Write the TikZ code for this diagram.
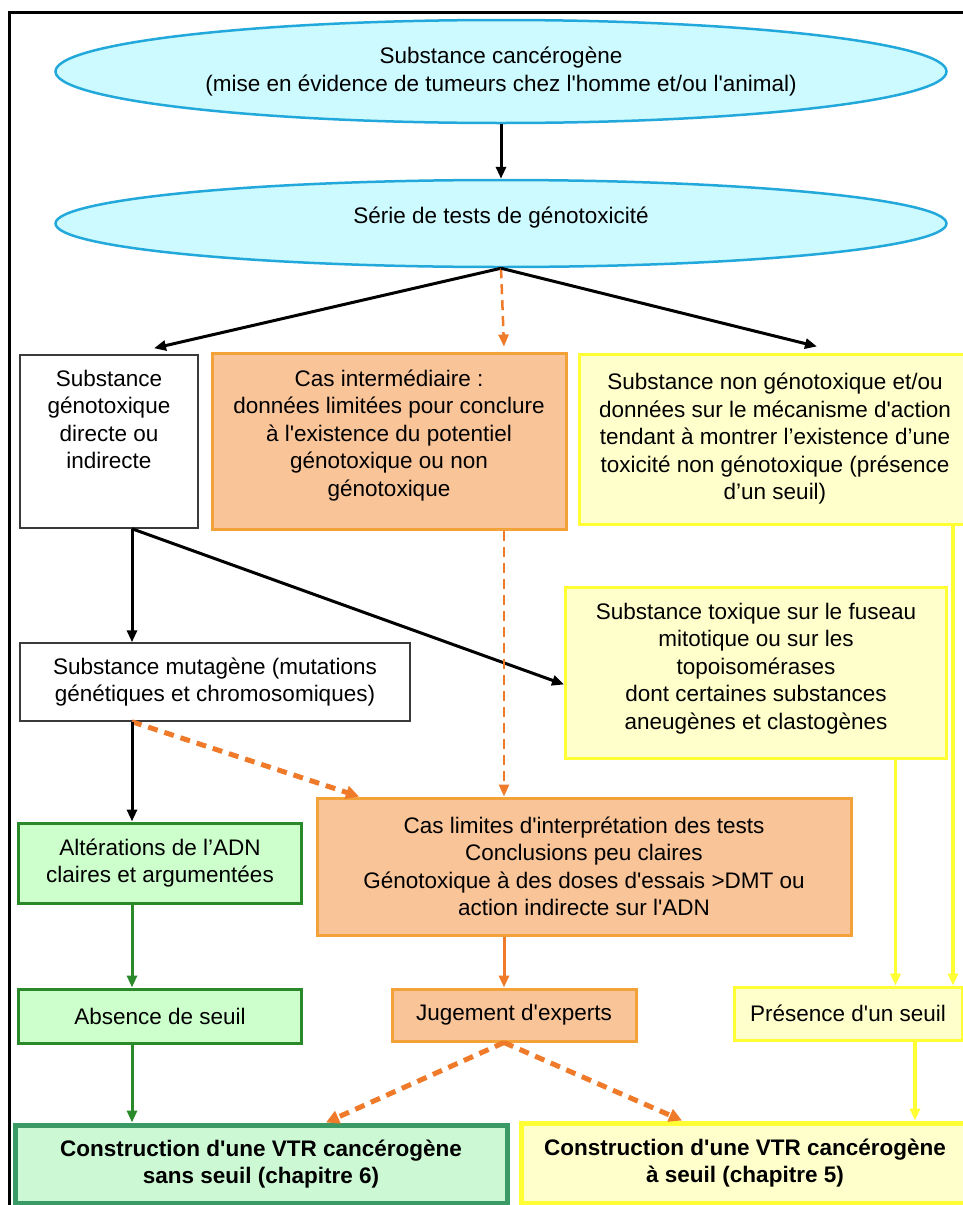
\documentclass[tikz,border=0pt]{standalone}
\usepackage{fontspec}
\setmainfont{Liberation Sans}[Ligatures=TeXOff]
\usetikzlibrary{shapes.geometric,arrows.meta,calc}
\definecolor{ellfill}{HTML}{CCFAFF}
\definecolor{ellline}{HTML}{22A8DA}
\definecolor{orfill}{HTML}{FAC499}
\definecolor{orline}{HTML}{F3A23A}
\definecolor{yefill}{HTML}{FFFFCC}
\definecolor{yeline}{HTML}{FFFF33}
\definecolor{grfill}{HTML}{CCFFCC}
\definecolor{grline}{HTML}{2A8A2A}
\definecolor{blfill}{HTML}{CCF8D4}
\definecolor{blline}{HTML}{3A9A66}
\definecolor{orarrow}{HTML}{EE7A2A}
\definecolor{boxgray}{HTML}{3A3A3A}
\tikzset{
  txt/.style={font=\fontsize{22.5}{27.5}\selectfont, align=center, inner sep=0pt},
  ell/.style={txt, ellipse, draw=ellline, fill=ellfill, line width=2.5pt, minimum width=891pt},
  whitebox/.style={txt, rectangle, draw=boxgray, fill=white, line width=1.5pt},
  orbox/.style={txt, rectangle, draw=orline, fill=orfill, line width=3pt},
  yebox/.style={txt, rectangle, draw=yeline, fill=yefill, line width=3pt},
  grbox/.style={txt, rectangle, draw=grline, fill=grfill, line width=3pt},
  blbox/.style={txt, rectangle, draw=blline, fill=blfill, line width=5pt, font=\fontsize{22.5}{27.5}\selectfont\bfseries},
  brbox/.style={txt, rectangle, draw=yeline, fill=yefill, line width=5pt, font=\fontsize{22.5}{27.5}\selectfont\bfseries},
  tip/.style={-{Triangle[length=12pt,width=10pt]}},
  blackarrow/.style={tip, draw=black, line width=3pt},
  greenarrow/.style={tip, draw=grline, line width=3pt},
  yellowarrow/.style={tip, draw=yeline, line width=3.5pt},
  orsolid/.style={tip, draw=orarrow, line width=3pt},
  orthin/.style={tip, draw=orarrow, line width=2.5pt, dash pattern=on 10pt off 6pt},
  orthick/.style={-{Triangle[length=13pt,width=13pt]}, draw=orarrow, line width=5pt, dash pattern=on 10pt off 7pt},
}
\begin{document}
\begin{tikzpicture}[x=1pt,y=-1pt]
\useasboundingbox (0,0) rectangle (963,1205);
\clip (0,0) rectangle (963,1205);
\draw[line width=3pt, black] (9.5,12.5) rectangle (1000,1300);

\node[ell, minimum height=103pt] (e1) at (501,71.5) {Substance cancérogène\\(mise en évidence de tumeurs chez l'homme et/ou l'animal)};
\node[ell, minimum height=87pt] (e2) at (501,223.5) {Série de tests de génotoxicité\\[-11.5pt]};

\node[whitebox, minimum width=178pt, minimum height=173pt] (A) at (109,441.5) {Substance\\génotoxique\\directe ou\\indirecte\\[16.5pt]};
\node[orbox, minimum width=354pt, minimum height=176pt] (B) at (389,441) {Cas intermédiaire :\\données limitées pour conclure\\à l'existence du potentiel\\génotoxique ou non\\génotoxique\\[-11.5pt]};
\node[yebox, minimum width=392pt, minimum height=170pt] (C) at (775,439) {Substance non génotoxique et/ou\\données sur le mécanisme d'action\\tendant à montrer l’existence d’une\\toxicité non génotoxique (présence\\d’un seuil)};
\node[yebox, minimum width=381pt, minimum height=171pt] (D) at (756,672.5) {Substance toxique sur le fuseau\\mitotique ou sur les\\topoisomérases\\dont certaines substances\\aneugènes et clastogènes\\[-14.5pt]};
\node[whitebox, minimum width=390pt, minimum height=78pt] (E) at (215,682) {Substance mutagène (mutations\\génétiques et chromosomiques)};
\node[grbox, minimum width=283pt, minimum height=80pt] (F) at (160,863) {Altérations de l’ADN\\claires et argumentées};
\node[orbox, minimum width=534pt, minimum height=137pt] (G) at (584,866.5) {Cas limites d'interprétation des tests\\Conclusions peu claires\\Génotoxique à des doses d'essais >DMT ou\\action indirecte sur l'ADN};
\node[grbox, minimum width=283pt, minimum height=54pt] (Abs) at (160,1016) {Absence de seuil};
\node[orbox, minimum width=244pt, minimum height=52pt] (Jug) at (514,1015) {Jugement d'experts};
\node[yebox, minimum width=228pt, minimum height=53pt] (Pres) at (848,1013.5) {Présence d'un seuil};
\node[blbox, minimum width=492pt, minimum height=78pt] (BL) at (261,1164) {Construction d'une VTR cancérogène\\sans seuil (chapitre 6)};
\node[brbox, minimum width=448pt, minimum height=80pt] (BR) at (745,1163) {Construction d'une VTR cancérogène\\à seuil (chapitre 5)};

\coordinate (j1) at ([xshift=23pt]A.south);
\coordinate (j2) at ([xshift=115pt]B.south);
\coordinate (j3) at ([xshift=178pt]C.south);
\coordinate (j4) at ([xshift=139.5pt]D.south);
\coordinate (j5) at ([xshift=67pt]Pres.south);

\draw[blackarrow] (e1.south) -- (e2.north);
\draw[blackarrow] (e2.south) -- ([xshift=45pt,yshift=6pt]A.north);
\draw[orthin] (e2.south) -- ([xshift=115pt,yshift=5pt]B.north);
\draw[blackarrow] (e2.south) -- ([xshift=42pt,yshift=6pt]C.north);

\draw[blackarrow] (j1) -- (j1 |- E.north);
\draw[blackarrow] (j1) -- ([yshift=-12pt]D.west);
\draw[orthin] (j2) -- (j2 |- G.north);
\draw[orthick] (j1 |- E.south) -- ([xshift=-225pt]G.north);
\draw[blackarrow] (j1 |- E.south) -- (j1 |- F.north);
\draw[greenarrow] (j1 |- F.south) -- (j1 |- Abs.north);
\draw[greenarrow] (j1 |- Abs.south) -- (j1 |- BL.north);

\draw[yellowarrow] (j3) -- (j3 |- Pres.north);
\draw[yellowarrow] (j4) -- (j4 |- Pres.north);
\draw[yellowarrow] (j5) -- (j5 |- BR.north);

\draw[orsolid] (j2 |- G.south) -- (j2 |- Jug.north);
\draw[orthick] (j2 |- Jug.south) -- ([xshift=65pt]BL.north);
\draw[orthick] (j2 |- Jug.south) -- ([xshift=-63pt]BR.north);
\end{tikzpicture}
\end{document}
